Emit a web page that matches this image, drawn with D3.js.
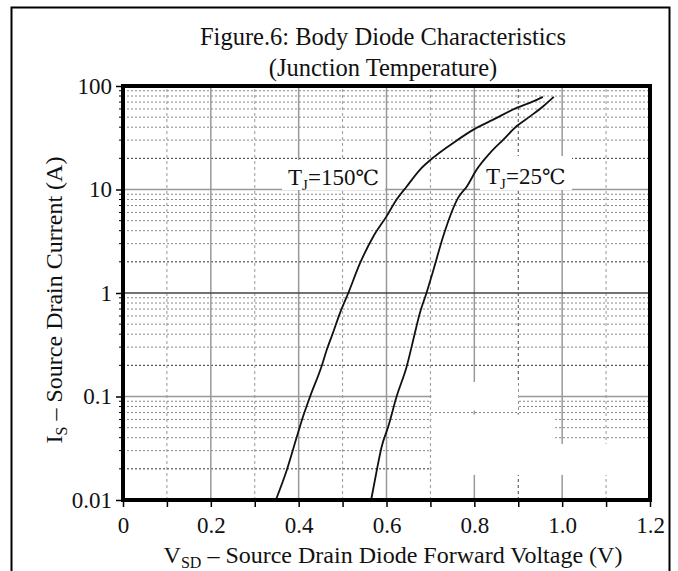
<!DOCTYPE html>
<html>
<head>
<meta charset="utf-8">
<title>Body Diode Characteristics</title>
<script src="https://cdn.jsdelivr.net/npm/d3@7"></script>
<style>
  body { margin: 0; background: #fff; }
  svg text { font-family: "Liberation Serif", "Times New Roman", serif; fill: #111; }
</style>
</head>
<body>
<script>
// values: VSD (V) against IS (A)
const vsd150 = [0.348, 0.373, 0.396, 0.410, 0.426, 0.452, 0.464, 0.477, 0.494, 0.513, 0.540, 0.570, 0.600, 0.623, 0.646, 0.676, 0.710, 0.752, 0.798, 0.843, 0.896, 0.934, 0.956];
const is150  = [0.01, 0.0195, 0.041, 0.064, 0.0998, 0.195, 0.283, 0.40, 0.64, 1.0, 1.95, 3.52, 5.5, 8.0, 10.7, 15.5, 20.9, 28.2, 37.9, 47.3, 61.4, 71.1, 78.5];

const vsd25 = [0.565, 0.578, 0.589, 0.604, 0.623, 0.646, 0.664, 0.676, 0.691, 0.707, 0.729, 0.763, 0.783, 0.805, 0.836, 0.866, 0.896, 0.927, 0.957, 0.981];
const is25  = [0.01, 0.0195, 0.0327, 0.0512, 0.0998, 0.195, 0.40, 0.64, 1.0, 1.68, 3.52, 8.3, 10.7, 15.5, 22.6, 30.3, 40.8, 50.9, 63.7, 78.5];

const xTicks = [0, 0.2, 0.4, 0.6, 0.8, 1.0, 1.2];
const xTickLabels = ["0", "0.2", "0.4", "0.6", "0.8", "1.0", "1.2"];
const yTicks = [0.01, 0.1, 1, 10, 100];
const yTickLabels = ["0.01", "0.1", "1", "10", "100"];

const W = 678, H = 571;
const x = d3.scaleLinear().domain([0, 1.2]).range([123, 650]);
const y = d3.scaleLog().domain([0.01, 100]).range([500, 86]);

const svg = d3.select("body").append("svg")
  .attr("width", W).attr("height", H);

// outer frame (open at the bottom)
svg.append("rect")
  .attr("x", 11.5).attr("y", 7.5)
  .attr("width", 658).attr("height", 620)
  .attr("fill", "none").attr("stroke", "#000").attr("stroke-width", 2);

// title
svg.append("text").attr("x", 383).attr("y", 45)
  .attr("text-anchor", "middle").style("font-size", "24.5px")
  .text("Figure.6: Body Diode Characteristics");
svg.append("text").attr("x", 383).attr("y", 76)
  .attr("text-anchor", "middle").style("font-size", "24.5px")
  .text("(Junction Temperature)");

// grid
const minorX = d3.range(0.1, 1.2, 0.2);
const majorX = [0.2, 0.4, 0.6, 0.8, 1.0];
const minorY = [];
[0.01, 0.1, 1, 10].forEach(d => { for (let k = 2; k <= 9; k++) minorY.push(d * k); });
const majorY = [0.1, 1, 10];

const grid = svg.append("g");
grid.selectAll(".my").data(minorY).enter().append("line")
  .attr("x1", x(0)).attr("x2", x(1.2))
  .attr("y1", d => y(d)).attr("y2", d => y(d))
  .attr("stroke", d => Math.abs(Math.log10(d) - Math.round(Math.log10(d)) - Math.log10(2)) < 1e-6 ? "#333" : "#888")
  .attr("stroke-width", 1)
  .attr("stroke-dasharray", "2,2");
grid.selectAll(".mx").data(minorX).enter().append("line")
  .attr("x1", d => x(d)).attr("x2", d => x(d))
  .attr("y1", y(0.01)).attr("y2", y(100))
  .attr("stroke", d => Math.abs(d - 0.9) < 1e-6 ? "#444" : "#999")
  .attr("stroke-width", 1)
  .attr("stroke-dasharray", "3,3");
grid.selectAll(".Mx").data(majorX).enter().append("line")
  .attr("x1", d => x(d)).attr("x2", d => x(d))
  .attr("y1", y(0.01)).attr("y2", y(100))
  .attr("stroke", "#999").attr("stroke-width", 1.5);
grid.selectAll(".My").data(majorY).enter().append("line")
  .attr("x1", x(0)).attr("x2", x(1.2))
  .attr("y1", d => y(d)).attr("y2", d => y(d))
  .attr("stroke", d => d === 1 ? "#444" : "#999")
  .attr("stroke-width", 1.5);

// blank patches in the original scan (V range, I range)
const patchV0 = [0.7, 0.7, 0.7];
const patchV1 = [0.9, 0.984, 1.2];
const patchI0 = [0.073, 0.0348, 0.0175];
const patchI1 = [0.138, 0.067, 0.0348];
grid.selectAll(".patch").data(d3.range(patchV0.length)).enter().append("rect")
  .attr("x", i => x(patchV0[i]) + 1)
  .attr("y", i => y(patchI1[i]))
  .attr("width", i => x(patchV1[i]) - x(patchV0[i]) - 1)
  .attr("height", i => y(patchI0[i]) - y(patchI1[i]))
  .attr("fill", "#fff");

// label backgrounds
grid.append("rect").attr("x", 282).attr("y", 160).attr("width", 103).attr("height", 30).attr("fill", "#fff");
grid.append("rect").attr("x", 480).attr("y", 156).attr("width", 92).attr("height", 34).attr("fill", "#fff");

// curves
const line = d3.line()
  .x(d => x(d[0])).y(d => y(d[1]))
  .curve(d3.curveMonotoneX);
const c150 = d3.zip(vsd150, is150);
const c25 = d3.zip(vsd25, is25);
svg.selectAll(".curve").data([c150, c25]).enter().append("path")
  .attr("d", line)
  .attr("fill", "none").attr("stroke", "#111").attr("stroke-width", 1.8);

// curve labels
function tjLabel(px, py, t) {
  const tx = svg.append("text").attr("x", px).attr("y", py).style("font-size", "23px");
  tx.append("tspan").text("T");
  tx.append("tspan").attr("dy", 5).style("font-size", "15px").text("J");
  tx.append("tspan").attr("dy", -5).text(t);
  tx.append("tspan").style("font-family", "'DejaVu Serif', 'Liberation Serif', serif")
    .style("font-size", "21px").text("℃");
}
tjLabel(288, 185, "=150");
tjLabel(486, 184, "=25");

// plot frame
svg.append("rect")
  .attr("x", x(0)).attr("y", y(100))
  .attr("width", x(1.2) - x(0)).attr("height", y(0.01) - y(100))
  .attr("fill", "none").attr("stroke", "#000").attr("stroke-width", 4);

// bottom axis
const xAxis = d3.axisBottom(x)
  .tickValues(d3.range(0, 1.25, 0.1))
  .tickSize(7)
  .tickFormat(d => {
    const i = xTicks.findIndex(t => Math.abs(t - d) < 1e-6);
    return i >= 0 ? xTickLabels[i] : "";
  });
const gx = svg.append("g").attr("transform", `translate(0,${y(0.01)})`).call(xAxis);
gx.select(".domain").remove();
gx.selectAll("line").attr("stroke", "#000").attr("stroke-width", 1.5);
gx.selectAll("text").style("font-size", "23px").attr("dy", null).attr("y", 33);

// left axis
const yAxis = d3.axisLeft(y)
  .tickValues(yTicks)
  .tickSize(7)
  .tickFormat((d, i) => yTickLabels[i]);
const gy = svg.append("g").attr("transform", `translate(${x(0)},0)`).call(yAxis);
gy.select(".domain").remove();
gy.selectAll("line").attr("stroke", "#000").attr("stroke-width", 1.5);
gy.selectAll("text").style("font-size", "23px").attr("x", -11).attr("dy", "0.32em");
svg.append("g").selectAll("line").data(minorY).enter().append("line")
  .attr("x1", x(0) - 4).attr("x2", x(0))
  .attr("y1", d => y(d)).attr("y2", d => y(d))
  .attr("stroke", "#000").attr("stroke-width", 1);

// axis titles
const xt = svg.append("text").attr("x", 393).attr("y", 563)
  .attr("text-anchor", "middle").style("font-size", "24px");
xt.append("tspan").text("V");
xt.append("tspan").attr("dy", 5).style("font-size", "16px").text("SD");
xt.append("tspan").attr("dy", -5).text(" – Source Drain Diode Forward Voltage (V)");

const yt = svg.append("text")
  .attr("transform", "translate(62,300) rotate(-90)")
  .attr("text-anchor", "middle").style("font-size", "24px");
yt.append("tspan").text("I");
yt.append("tspan").attr("dy", 5).style("font-size", "16px").text("S");
yt.append("tspan").attr("dy", -5).text(" – Source Drain Current (A)");
</script>
</body>
</html>
